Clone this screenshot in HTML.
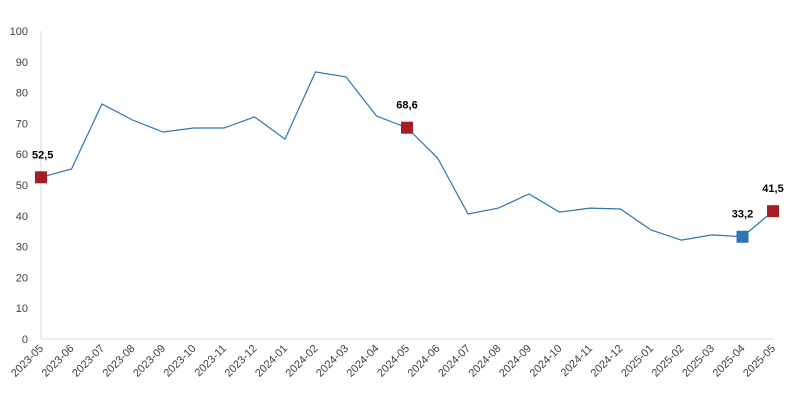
<!DOCTYPE html>
<html><head><meta charset="utf-8"><style>
body{margin:0;background:#fff;}
svg{font-family:"Liberation Sans",sans-serif;}
</style></head><body>
<svg id="chart" width="800" height="410" xmlns="http://www.w3.org/2000/svg"></svg>
<script>
const categories=["2023-05","2023-06","2023-07","2023-08","2023-09","2023-10","2023-11","2023-12","2024-01","2024-02","2024-03","2024-04","2024-05","2024-06","2024-07","2024-08","2024-09","2024-10","2024-11","2024-12","2025-01","2025-02","2025-03","2025-04","2025-05"];
const values=[52.5,55.2,76.3,71.1,67.2,68.5,68.5,72.1,64.9,86.7,85.1,72.4,68.6,58.8,40.6,42.5,47.1,41.2,42.5,42.2,35.4,32.1,33.8,33.2,41.5];
const yTicks=[0,10,20,30,40,50,60,70,80,90,100];
const highlights=[{i:0,c:"#a51c24"},{i:12,c:"#a51c24"},{i:23,c:"#2e75b6"},{i:24,c:"#a51c24"}];
const svg=document.getElementById('chart');const NS="http://www.w3.org/2000/svg";
const x0=41,x1=773,yb=339,yt=31;
const X=i=>x0+(x1-x0)*i/(categories.length-1);
const Y=v=>yb-(yb-yt)*v/100;
function mk(t,a,p){const e=document.createElementNS(NS,t);for(const k in a)e.setAttribute(k,a[k]);(p||svg).appendChild(e);return e;}
const ax=mk('line',{x1:x0,y1:yt,x2:x0,y2:yb,stroke:'#d9d9d9'});


const bx=mk('line',{x1:x0,y1:yb,x2:x1,y2:yb,stroke:'#d9d9d9'});


yTicks.forEach(v=>{const t=mk('text',{x:28,y:Y(v)+4,'text-anchor':'end','font-size':11,fill:'#404040'});t.textContent=v;

});
categories.forEach((c,i)=>{const t=mk('text',{x:X(i)+3,y:yb+10,'text-anchor':'end','font-size':11,fill:'#404040',transform:`rotate(-45 ${X(i)+3} ${yb+10})`});t.textContent=c;

});
const ln=mk('polyline',{points:values.map((v,i)=>X(i)+','+Y(v)).join(' '),fill:'none',stroke:'#2e75b6','stroke-width':1.2});


highlights.forEach(h=>{const v=values[h.i];const r=mk('rect',{x:X(h.i)-6,y:Y(v)-6,width:12,height:12,fill:h.c});


const t=mk('text',{x:X(h.i)+(h.i==0?0:(h.i==24?0:0)),y:Y(v)-19,'text-anchor':h.i==0?'start':'middle','font-size':11,'font-weight':'bold',fill:'#000'});
if(h.i==0)t.setAttribute('x',X(h.i)-9);
t.textContent=v.toFixed(1).replace('.',',');

});
</script>
</body></html>
